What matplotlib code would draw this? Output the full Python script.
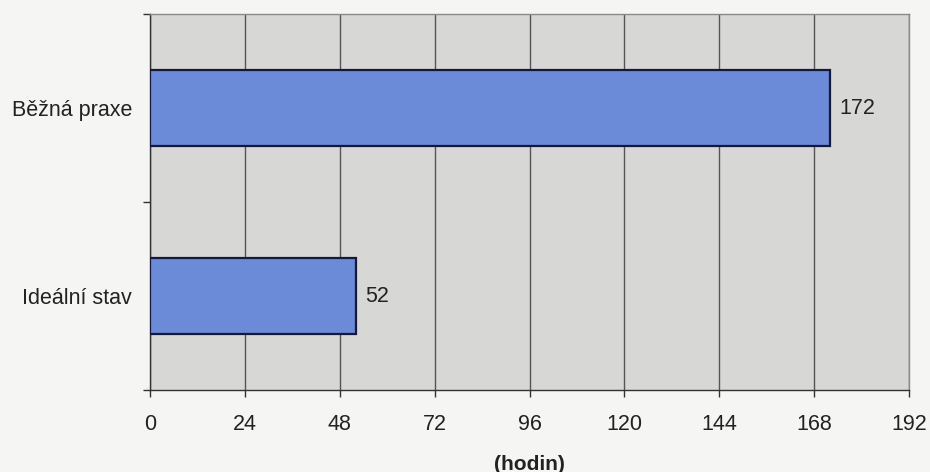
import matplotlib
matplotlib.use("Agg")
import matplotlib.pyplot as plt

categories = ["Ideální stav", "Běžná praxe"]
values = [52, 172]
xticks = [0, 24, 48, 72, 96, 120, 144, 168, 192]
xlabel = "(hodin)"

plt.rcParams['font.family'] = ['Liberation Sans', 'DejaVu Sans']

fig = plt.figure(figsize=(9.3, 4.72), dpi=100)
fig.patch.set_facecolor('#f5f5f3')
ax = fig.add_axes([150/930, 1-390/472, (909-150)/930, (390-14)/472])
ax.set_facecolor('#d7d7d5')

fs = 15.5
ypos = list(range(len(categories)))
ax.barh(ypos, values, height=0.4, color='#6b8ad8', edgecolor='#15183a', linewidth=1.6, zorder=3)
for y, v in zip(ypos, values):
    ax.text(v + 192*0.013, y, str(v), va='center', ha='left', fontsize=fs, color='#222222', zorder=4)

ax.set_xlim(0, 192)
ax.set_ylim(-0.5, len(categories) - 0.5)
ax.set_xticks(xticks)
ax.set_xticklabels([str(t) for t in xticks], fontsize=fs, color='#222222')
ax.set_yticks([i - 0.5 for i in range(len(categories) + 1)])
ax.set_yticklabels([])
ax.set_yticks(ypos, minor=True)
ax.set_yticklabels(categories, minor=True, fontsize=fs, color='#222222')
ax.tick_params(axis='y', which='minor', length=0, pad=13)
ax.tick_params(axis='y', which='major', length=5, color='#333333', width=1)
ax.tick_params(axis='x', length=5, color='#333333', width=1, pad=12.5)

ax.grid(axis='x', color='#555555', linewidth=1, zorder=1)
ax.set_axisbelow(True)
for s in ['top', 'right']:
    ax.spines[s].set_color('#8a8a8a')
    ax.spines[s].set_linewidth(1)
for s in ['left', 'bottom']:
    ax.spines[s].set_color('#333333')
    ax.spines[s].set_linewidth(1)

ax.set_xlabel(xlabel, fontsize=15, fontweight='bold', color='#222222', labelpad=14)

fig.savefig('out.png', dpi=100, facecolor=fig.get_facecolor())
